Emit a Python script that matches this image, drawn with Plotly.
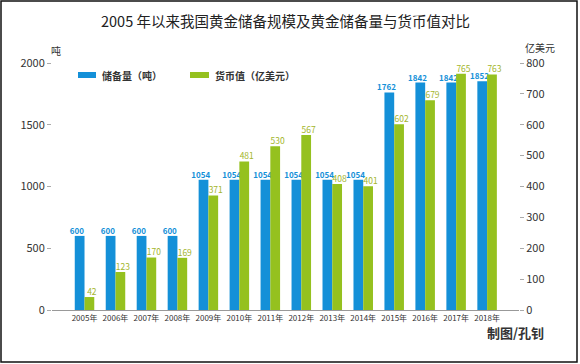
import plotly.graph_objects as go

years = ["2005年", "2006年", "2007年", "2008年", "2009年", "2010年", "2011年",
         "2012年", "2013年", "2014年", "2015年", "2016年", "2017年", "2018年"]
reserve_t = [600, 600, 600, 600, 1054, 1054, 1054, 1054, 1054, 1054, 1762, 1842, 1842, 1852]
value_100m_usd = [42, 123, 170, 169, 371, 481, 530, 567, 408, 401, 602, 679, 765, 763]

BLUE = "#1490d8"
GREEN = "#95c11f"
GREEN_TXT = "#a3b52b"
FONT = "Noto Sans CJK SC"

W, H = 580, 364
ML, MR, MT, MB = 52, 61, 63, 54
PW, PH = W - ML - MR, H - MT - MB
BARGAP = 0.37
HALF = (1 - BARGAP) / 4  # offset of each bar centre from the category centre


def px(x):
    return (x - ML) / PW


def py(y):
    return (H - MB - y) / PH


idx = list(range(len(years)))

fig = go.Figure()
fig.add_trace(go.Bar(
    x=idx, y=reserve_t, name="储备量（吨）",
    marker=dict(color=BLUE, line=dict(width=0)),
    offsetgroup="a", yaxis="y", hoverinfo="skip",
))
fig.add_trace(go.Bar(
    x=idx, y=value_100m_usd, name="货币值（亿美元）",
    marker=dict(color=GREEN, line=dict(width=0)),
    offsetgroup="b", yaxis="y2", hoverinfo="skip",
))
# value labels drawn on top of all bars
fig.add_trace(go.Scatter(
    x=[i - HALF - 0.09 for i in idx], y=reserve_t, mode="text",
    text=["<b>%d</b>" % v for v in reserve_t], textposition="top center",
    textfont=dict(color=BLUE, size=8, family=FONT), cliponaxis=False,
    yaxis="y", hoverinfo="skip", showlegend=False,
))
fig.add_trace(go.Scatter(
    x=[i + HALF + 0.08 for i in idx], y=value_100m_usd, mode="text",
    text=[str(v) for v in value_100m_usd], textposition="top center",
    textfont=dict(color=GREEN_TXT, size=8.5, family=FONT), cliponaxis=False,
    yaxis="y2", hoverinfo="skip", showlegend=False,
))

fig.update_layout(
    width=W, height=H,
    margin=dict(l=ML, r=MR, t=MT, b=MB, autoexpand=False),
    paper_bgcolor="white", plot_bgcolor="white",
    font=dict(family=FONT, color="#333333"),
    barmode="group", bargap=BARGAP, bargroupgap=0,
    showlegend=False,
    xaxis=dict(
        range=[-1.05, 14.03], tickmode="array", automargin=False,
        tickvals=idx, ticktext=years,
        tickfont=dict(size=8, color="#333333"),
        showgrid=False, zeroline=False, showline=True,
        linecolor="#999999", linewidth=1, ticks="",
    ),
    yaxis=dict(
        range=[0, 2000], tickvals=[0, 500, 1000, 1500, 2000], automargin=False,
        tickfont=dict(size=11, color="#333333"),
        showgrid=False, zeroline=False, showline=False,
        ticks="outside", ticklen=4, tickcolor="#aaaaaa",
    ),
    yaxis2=dict(
        range=[0, 800], tickvals=list(range(0, 801, 100)), automargin=False,
        overlaying="y", side="right",
        tickfont=dict(size=11, color="#333333"),
        showgrid=False, zeroline=False, showline=False,
        ticks="outside", ticklen=4, tickcolor="#aaaaaa",
    ),
)

ann = [
    dict(text="2005 年以来我国黄金储备规模及黄金储备量与货币值对比",
         x=px(285), y=py(20), font=dict(size=14.5, color="#222222")),
    dict(text="吨", x=px(56), y=py(50), font=dict(size=10, color="#333333")),
    dict(text="亿美元", x=px(540), y=py(47), font=dict(size=10, color="#333333")),
    dict(text="<b>储备量（吨）</b>", x=px(100), y=py(75), xanchor="left",
         font=dict(size=10, color="#333333")),
    dict(text="<b>货币值（亿美元）</b>", x=px(213), y=py(75), xanchor="left",
         font=dict(size=10, color="#333333")),
    dict(text="<b>制图/孔钊</b>", x=px(546), y=py(332), xanchor="right",
         font=dict(size=13, color="#333333")),
]
for a in ann:
    a.update(xref="paper", yref="paper", showarrow=False, yanchor="middle")
    a.setdefault("xanchor", "center")
    fig.add_annotation(**a)

shapes = [
    dict(type="rect", x0=px(78), x1=px(96), y0=py(72), y1=py(78),
         fillcolor=BLUE, line=dict(width=0)),
    dict(type="rect", x0=px(190), x1=px(209), y0=py(72), y1=py(78),
         fillcolor=GREEN, line=dict(width=0)),
    dict(type="rect", x0=px(1), x1=px(577), y0=py(1), y1=py(362),
         fillcolor="rgba(0,0,0,0)", line=dict(width=1.5, color="#111111")),
]
for s in shapes:
    s.update(xref="paper", yref="paper", layer="above")
    fig.add_shape(**s)

fig.write_html(
    "out.html",
    config=dict(displayModeBar=False),
    post_script="document.body.style.margin='0';document.body.style.padding='0';",
)
